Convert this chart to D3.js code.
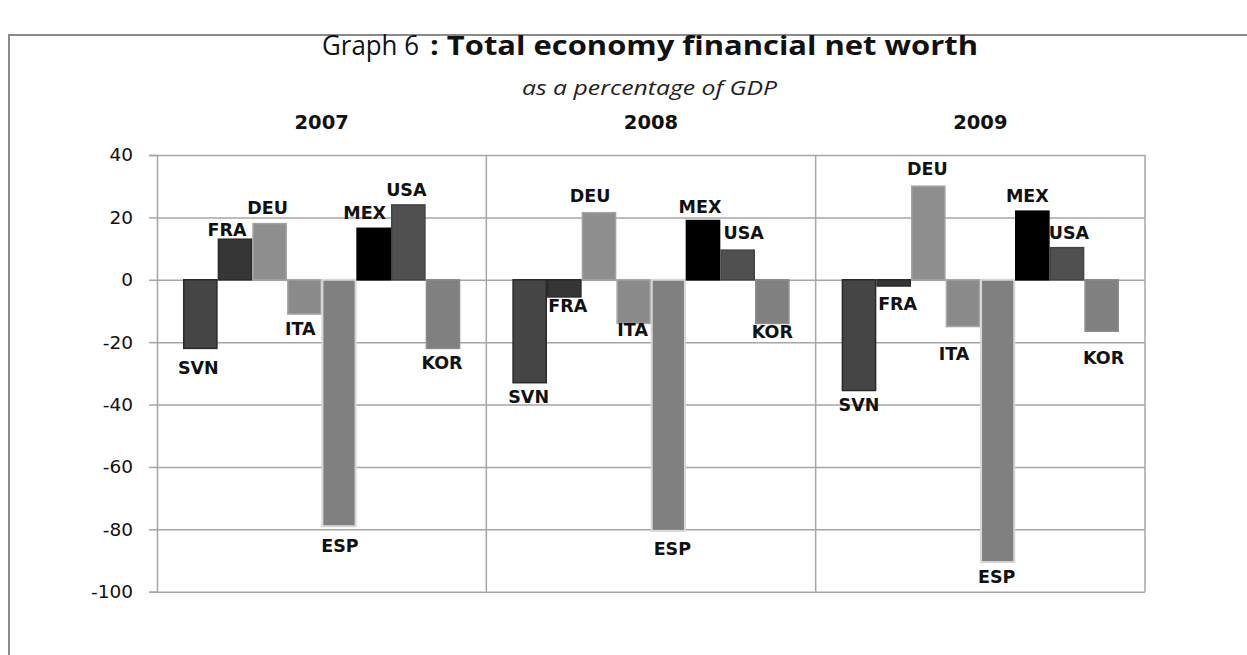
<!DOCTYPE html>
<html>
<head>
<meta charset="utf-8">
<script src="https://cdn.jsdelivr.net/npm/d3@7"></script>
<style>
  html, body { margin: 0; padding: 0; background: #fff; }
  svg { display: block; }
</style>
</head>
<body>
<svg id="chart" width="1247" height="655"></svg>
<script>
// Financial net worth of the total economy, % of GDP
const years = ["2007", "2008", "2009"];
const countries = ["SVN", "FRA", "DEU", "ITA", "ESP", "MEX", "USA", "KOR"];
const values2007 = [-22, 13, 18, -11, -79, 16.5, 24, -22];
const values2008 = [-33, -5.5, 21.5, -14, -80.5, 19, 9.5, -14];
const values2009 = [-35.5, -2, 30, -15, -90.5, 22, 10.3, -16.5];
const yTicks = [40, 20, 0, -20, -40, -60, -80, -100];

const valuesByYear = { "2007": values2007, "2008": values2008, "2009": values2009 };

// Bar styling per country
const fills   = ["#454545", "#363636", "#8e8e8e", "#8a8a8a", "#808080", "#000000", "#505050", "#808080"];
const strokes = ["#2a2a2a", "#2a2a2a", "#a2a2a2", "#a8a8a8", "#d6d6d6", "#000000", "#444444", "#8c8c8c"];

// Hand-placed nudges for the data labels ([dx, dy] from the default spot)
const labelNudge = {
  "2007": [[-2, 3], [-8, 6], [-2, 0], [-4, -1], [1, 4], [-9, 0], [-2, 1], [-1, -2]],
  "2008": [[-1, -2], [3.5, -7], [-9, -1], [-1, -9.5], [4, 2], [-3, 2], [6, -1], [0, -8]],
  "2009": [[0, -2], [4, 2], [-1, -1], [-9, 11], [-1, -1], [-5, 1], [2, 1], [2, 10]]
};

const svg = d3.select("#chart");

// Outer frame (top and left edges)
svg.append("path")
  .attr("d", "M9,655 L9,35 L1247,35")
  .attr("fill", "none")
  .attr("stroke", "#8a8a8a")
  .attr("stroke-width", 2);

// Title
svg.append("text")
  .attr("x", 322).attr("y", 55)
  .attr("font-family", "Open Sans").attr("font-size", 27)
  .attr("fill", "#111")
  .attr("textLength", 97).attr("lengthAdjust", "spacingAndGlyphs")
  .text("Graph 6");
svg.append("text")
  .attr("x", 430).attr("y", 55)
  .attr("font-family", "Open Sans").attr("font-size", 27).attr("font-weight", "bold")
  .attr("fill", "#111")
  .attr("textLength", 548).attr("lengthAdjust", "spacingAndGlyphs")
  .text(": Total economy financial net worth");
svg.append("text")
  .attr("x", 522).attr("y", 95)
  .attr("font-family", "Open Sans").attr("font-size", 20).attr("font-style", "italic")
  .attr("fill", "#222")
  .attr("textLength", 255).attr("lengthAdjust", "spacingAndGlyphs")
  .text("as a  percentage of GDP");

// Scales
const y = d3.scaleLinear().domain([-100, 40]).range([591.7, 155]);
const xYear = d3.scaleBand().domain(years).range([157, 1145]).paddingInner(0).paddingOuter(0);
const xCountry = d3.scaleBand().domain(countries).range([0, xYear.bandwidth()])
  .paddingInner(0).paddingOuter(0.75);

const gridColor = "#a6a6a6";

// Horizontal gridlines
svg.append("g")
  .attr("transform", "translate(157,0)")
  .call(d3.axisLeft(y).tickValues(yTicks).tickSize(-(1145 - 157)).tickFormat(""))
  .call(g => g.select(".domain").remove())
  .call(g => g.selectAll("line").attr("stroke", gridColor).attr("stroke-width", 1.5));

// Panel separators and right edge
svg.append("g").selectAll("line")
  .data(years.slice(1).map(d => xYear(d)).concat([1145]))
  .join("line")
  .attr("x1", d => d).attr("x2", d => d)
  .attr("y1", y(40)).attr("y2", y(-100))
  .attr("stroke", gridColor).attr("stroke-width", 1.5);

// Left value axis
const yAxis = svg.append("g")
  .attr("transform", "translate(157,0)")
  .call(d3.axisLeft(y).tickValues(yTicks).tickSize(8).tickPadding(16).tickFormat(d => String(d)));
yAxis.select(".domain").attr("stroke", gridColor).attr("stroke-width", 1.5);
yAxis.selectAll(".tick line").attr("stroke", gridColor).attr("stroke-width", 1.5);
yAxis.selectAll(".tick text")
  .attr("font-family", "DejaVu Sans").attr("font-size", 18.5).attr("fill", "#111");

// Year headings
svg.append("g").selectAll("text")
  .data(years)
  .join("text")
  .attr("x", d => xYear(d) + xYear.bandwidth() / 2)
  .attr("y", 129)
  .attr("text-anchor", "middle")
  .attr("font-family", "DejaVu Sans").attr("font-size", 19.5).attr("font-weight", "bold")
  .attr("fill", "#111")
  .text(d => d);

// Bars and labels, one group per year
years.forEach(year => {
  const vals = valuesByYear[year];
  const rows = countries.map((c, i) => ({ c, i, v: vals[i] }));
  const g = svg.append("g").attr("transform", `translate(${xYear(year)},0)`);

  g.selectAll("rect")
    .data(rows)
    .join("rect")
    .attr("x", d => xCountry(d.c) + 0.75)
    .attr("width", xCountry.bandwidth() - 1.5)
    .attr("y", d => y(Math.max(0, d.v)))
    .attr("height", d => Math.abs(y(d.v) - y(0)))
    .attr("fill", d => fills[d.i])
    .attr("stroke", d => strokes[d.i])
    .attr("stroke-width", d => d.c === "ESP" ? 2 : 1.5);

  g.selectAll("text")
    .data(rows)
    .join("text")
    .attr("x", d => xCountry(d.c) + xCountry.bandwidth() / 2 + labelNudge[year][d.i][0])
    .attr("y", d => y(d.v) + (d.v >= 0 ? -16 : 16) + labelNudge[year][d.i][1])
    .attr("dy", "0.36em")
    .attr("text-anchor", "middle")
    .attr("font-family", "DejaVu Sans").attr("font-size", 17.5).attr("font-weight", "bold")
    .attr("fill", "#111")
    .text(d => d.c);
});
</script>
</body>
</html>
